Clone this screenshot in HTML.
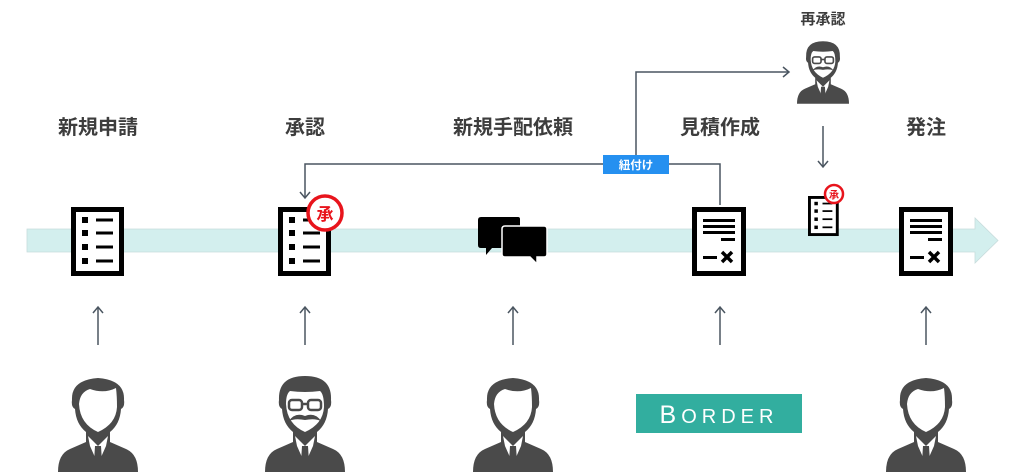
<!DOCTYPE html>
<html><head><meta charset="utf-8"><style>
html,body{margin:0;padding:0;background:#fff;}
svg{display:block}
text{font-family:"Liberation Sans","Noto Sans CJK JP",sans-serif;}
</style></head><body>
<svg width="1024" height="473" viewBox="0 0 1024 473" xmlns="http://www.w3.org/2000/svg">
<defs>
  <g id="listdoc">
    <rect x="2.5" y="2.5" width="48" height="64" fill="#fff" stroke="#000" stroke-width="5"/>
    <rect x="11" y="10" width="6" height="6" fill="#000"/><rect x="25" y="11.5" width="17" height="3" fill="#000"/>
    <rect x="11" y="23" width="6" height="6" fill="#000"/><rect x="25" y="24.5" width="17" height="3" fill="#000"/>
    <rect x="11" y="37" width="6" height="6" fill="#000"/><rect x="25" y="38.5" width="17" height="3" fill="#000"/>
    <rect x="11" y="51" width="6" height="6" fill="#000"/><rect x="25" y="52.5" width="17" height="3" fill="#000"/>
  </g>
  <g id="estdoc">
    <rect x="2.5" y="2.5" width="49" height="64" fill="#fff" stroke="#000" stroke-width="5"/>
    <rect x="11" y="12" width="32" height="3" fill="#000"/>
    <rect x="11" y="18" width="32" height="3" fill="#000"/>
    <rect x="11" y="24" width="32" height="3" fill="#000"/>
    <rect x="29" y="31" width="14" height="3" fill="#000"/>
    <rect x="11" y="49" width="14" height="3" fill="#000"/>
    <path d="M30 45 L40 55 M40 45 L30 55" stroke="#000" stroke-width="3.5"/>
  </g>
  <g id="person">
    <path d="M-40 98 Q-40 80 -28 75 L-12 68 L-12 58 Q-22 50 -23 35 Q-27 33 -26 26 Q-27 6 0 4 Q27 6 26 26 Q27 33 23 35 Q22 50 12 58 L12 68 L28 75 Q40 80 40 98 Z" fill="#4a4a4a"/>
    <path d="M-19 30 Q-18 18 -8 15 Q6 20 18 14 Q19 22 19 33 Q18 50 0 58 Q-18 50 -19 30 Z" fill="#fff"/>
    <path d="M-10 62 L0 72 L10 62 L8 72 L0 90 L-8 72 Z" fill="#fff"/>
    <path d="M-3 72 L3 72 L4 88 L0 92 L-4 88 Z" fill="#4a4a4a"/>
  </g>
  <g id="boss">
    <path d="M-40 98 Q-40 80 -28 75 L-12 68 L-12 58 Q-22 50 -23 35 Q-27 33 -26 26 Q-27 2 0 2 Q27 2 26 26 Q27 33 23 35 Q22 50 12 58 L12 68 L28 75 Q40 80 40 98 Z" fill="#4a4a4a"/>
    <path d="M-19 30 Q-19 20 -15 17 Q0 19 15 17 Q19 20 19 33 Q18 50 0 58 Q-18 50 -19 30 Z" fill="#fff"/>
    <rect x="-16" y="26" width="13" height="10" rx="3" fill="#fff" stroke="#4a4a4a" stroke-width="2.5"/>
    <rect x="3" y="26" width="13" height="10" rx="3" fill="#fff" stroke="#4a4a4a" stroke-width="2.5"/>
    <path d="M-3 30 L3 30" stroke="#4a4a4a" stroke-width="2.5"/>
    <path d="M-16 47 Q-10 38 0 42 Q10 38 16 47 Q10 44 0 46 Q-10 44 -16 47 Z" fill="#4a4a4a"/>
    <path d="M-10 62 L0 72 L10 62 L8 72 L0 90 L-8 72 Z" fill="#fff"/>
    <path d="M-3 72 L3 72 L4 88 L0 92 L-4 88 Z" fill="#4a4a4a"/>
  </g>
  <g id="uparrow">
    <path d="M0 40 L0 2" stroke="#4a5560" stroke-width="1.5"/>
    <path d="M-5 8 L0 2 L5 8" fill="none" stroke="#4a5560" stroke-width="1.5"/>
  </g>
</defs>

<path d="M27 229 L975 229 L975 218 L998 240.5 L975 263 L975 252 L27 252 Z" fill="#d3efee" stroke="#c8dcdc" stroke-width="0.8"/>

<g font-size="20" font-weight="bold" fill="#3d3d3d" text-anchor="middle">
  <text x="98" y="134">新規申請</text>
  <text x="305" y="134">承認</text>
  <text x="513" y="134">新規手配依頼</text>
  <text x="720" y="134">見積作成</text>
  <text x="926" y="134">発注</text>
  <text x="823" y="24" font-size="15">再承認</text>
</g>

<g fill="none" stroke="#4a5560" stroke-width="1.5">
  <path d="M720 205 L720 164 L305 164 L305 198"/>
  <path d="M300 192 L305 198 L310 192"/>
  <path d="M636 164 L636 72 L789 72"/>
  <path d="M783 67 L789 72 L783 77"/>
  <path d="M823 126 L823 167"/>
  <path d="M818 161 L823 167 L828 161"/>
</g>
<rect x="603" y="155" width="66" height="19" fill="#2590f0"/>
<text x="636" y="169" font-size="11.5" fill="#fff" text-anchor="middle" font-weight="bold">紐付け</text>

<use href="#listdoc" x="71" y="207"/>
<use href="#listdoc" x="278" y="207"/>
<circle cx="325" cy="213" r="17" fill="#fff" stroke="#e8141c" stroke-width="3.5"/>
<text x="325" y="220" font-size="17" fill="#e8141c" text-anchor="middle" font-weight="bold">承</text>
<use href="#estdoc" x="692" y="207"/>
<use href="#estdoc" x="899" y="207"/>
<g transform="translate(808,196) scale(0.58)"><use href="#listdoc"/></g>
<circle cx="834" cy="194" r="9" fill="#fff" stroke="#e8141c" stroke-width="2.5"/>
<text x="834" y="198.5" font-size="10" fill="#e8141c" text-anchor="middle" font-weight="bold">承</text>

<path d="M481 217 L518 217 Q520 217 520 219 L520 246 Q520 248 518 248 L492 248 L486 255 L486 248 L481 248 Q478 248 478 245 L478 220 Q478 217 481 217 Z" fill="#000"/>
<path d="M505 226 L544 226 Q547 226 547 229 L547 254 Q547 257 544 257 L537 257 L537 264 L530 257 L505 257 Q502 257 502 254 L502 229 Q502 226 505 226 Z" fill="#000" stroke="#fff" stroke-width="1.5"/>

<use href="#uparrow" x="98" y="305"/>
<use href="#uparrow" x="305" y="305"/>
<use href="#uparrow" x="513" y="305"/>
<use href="#uparrow" x="720" y="305"/>
<use href="#uparrow" x="926" y="305"/>

<use href="#person" x="98" y="374"/>
<use href="#boss" x="305" y="374"/>
<use href="#person" x="513" y="374"/>
<use href="#person" x="926" y="374"/>
<g transform="translate(823,40) scale(0.65)"><use href="#boss"/></g>

<rect x="636" y="394" width="166" height="39" fill="#32ae9f"/>
<text x="719" y="423" font-size="25" fill="#fff" text-anchor="middle" letter-spacing="5" font-family="Liberation Sans, sans-serif">B<tspan font-size="20">ORDER</tspan></text>
</svg>
</body></html>
